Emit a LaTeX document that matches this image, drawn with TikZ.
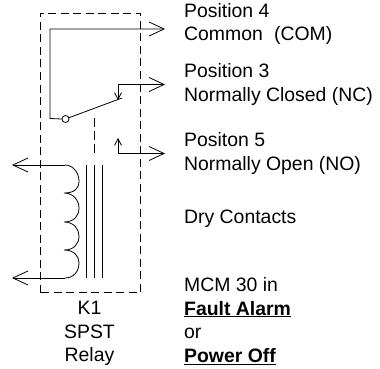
\documentclass[tikz,border=0pt]{standalone}
\usepackage{fontspec}
\setmainfont{Liberation Sans}
\usetikzlibrary{arrows.meta}
\tikzset{
  wire/.style={line width=0.8pt,line join=miter},
  bigarrow/.style={wire,-{Straight Barb[length=15pt,width=14pt,line width=0.8pt]}},
  smallarrow/.style={wire,-{Straight Barb[length=6.5pt,width=7pt,line width=0.8pt]}},
  dashbox/.style={line width=0.8pt,dash pattern=on 8pt off 4.5pt},
  label/.style={anchor=base west,inner sep=0pt,font=\fontsize{19.4}{22}\selectfont},
  clabel/.style={anchor=base,inner sep=0pt,font=\fontsize{19.4}{22}\selectfont},
  pivot/.style={circle,draw,line width=0.8pt,minimum size=7pt,inner sep=0pt}
}
\begin{document}
\begin{tikzpicture}[x=1pt,y=-1pt]
\useasboundingbox (0,0) rectangle (380,369);
% relay enclosure
\draw[dashbox] (40,292.5) -- (40,13) -- (140,13) -- (140,292.5) -- cycle;
% contacts
\node[pivot] (piv) at (65.5,119) {};
\coordinate (comcorner) at (50,29);
\coordinate (comleft) at (50,118.5);
\coordinate (comend) at (165,29);
\coordinate (blade) at (122,98);
\coordinate (nccorner) at (118,84.5);
\coordinate (ncend) at (165,84.5);
\coordinate (nctip) at (118,100);
\coordinate (nocorner) at (118,153.5);
\coordinate (noend) at (165,153.5);
\coordinate (notip) at (118,138);
\draw[bigarrow] (piv.west) -- (comleft) -- (comcorner) -- (comend);
\draw[wire] (piv) -- (blade);
\draw[bigarrow] (nccorner) -- (ncend);
\draw[smallarrow] (nccorner) -- (nctip);
\draw[bigarrow] (nocorner) -- (noend);
\draw[smallarrow] (nocorner) -- (notip);
% mechanical link
\coordinate (linka) at (94,118);
\coordinate (linkb) at (94,156);
\draw[line width=0.8pt,dash pattern=on 9pt off 4pt] (linka) -- (linkb);
% core
\foreach \x in {86.5,94,102}{\draw[wire] (\x,165) -- (\x,278);}
% coil
\coordinate (ctop) at (65,165);
\coordinate (cbot) at (65,278);
\coordinate (ltop) at (12,165);
\coordinate (lbot) at (12,278);
\draw[bigarrow] (ctop) -- (ltop);
\draw[bigarrow] (cbot) -- (lbot);
\draw[wire] (ctop)
  .. controls (74,165) and (79,174) .. (79,181)
  .. controls (79,189) and (74,193) .. (64,193)
  .. controls (74,193) and (79,201) .. (79,208)
  .. controls (79,216) and (74,222) .. (64,222)
  .. controls (74,222) and (79,229) .. (79,236)
  .. controls (79,244) and (74,250) .. (64,250)
  .. controls (74,250) and (79,256) .. (79,263)
  .. controls (79,271) and (74,278) .. (cbot);
% labels
\node[label] (p4) at (184,17.5) {Position 4};
\node[label] (com) at (184,41) {Common\hspace{0.3em} (COM)};
\node[label] (p3) at (184,77.5) {Position 3};
\node[label] (nc) at (184,101) {Normally Closed (NC)};
\node[label] (p5) at (184,146.5) {Positon 5};
\node[label] (no) at (184,170) {Normally Open (NO)};
\node[label] (dry) at (184,223) {Dry Contacts};
\node[label] (mcm) at (184,291.7) {MCM 30 in};
\node[label] (fa) at (184,315) {\textbf{\underline{Fault Alarm}}};
\node[label] (or) at (184,338) {or};
\node[label] (po) at (184,362.5) {\textbf{\underline{Power Off}}};
\node[clabel] (k1) at (89.5,314.5) {K1};
\node[clabel] (spst) at (89.5,338) {SPST};
\node[clabel] (rel) at (89.5,361) {Relay};
\end{tikzpicture}
\end{document}
